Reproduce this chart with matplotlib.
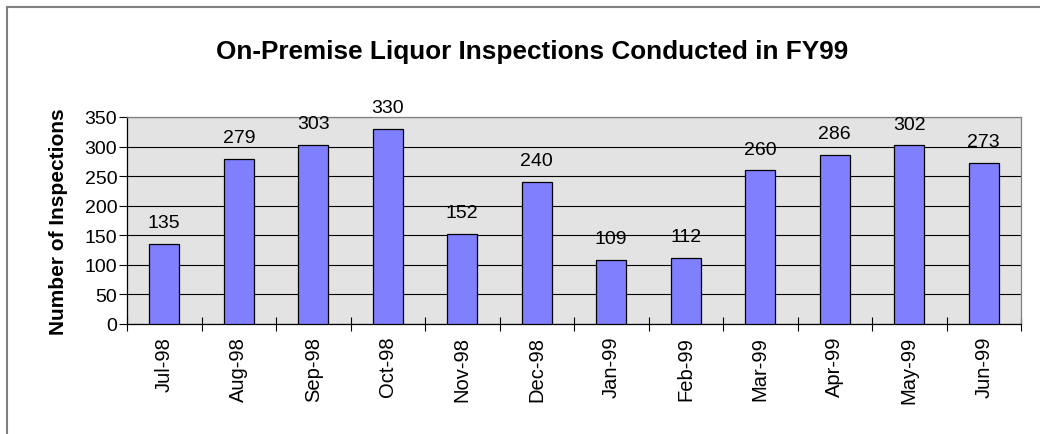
import matplotlib
matplotlib.use("Agg")
import matplotlib.pyplot as plt
import numpy as np

months = ["Jul-98", "Aug-98", "Sep-98", "Oct-98", "Nov-98", "Dec-98",
          "Jan-99", "Feb-99", "Mar-99", "Apr-99", "May-99", "Jun-99"]
inspections = [135, 279, 303, 330, 152, 240, 109, 112, 260, 286, 302, 273]
y_ticks = [0, 50, 100, 150, 200, 250, 300, 350]

plt.rcParams["font.family"] = ["Liberation Sans", "DejaVu Sans"]

fig = plt.figure(figsize=(10.4, 4.35), dpi=100)
ax = fig.add_axes([127 / 1040, 1 - 325 / 435, (1021 - 127) / 1040, (325 - 118) / 435])

x = np.arange(len(months))
ax.set_facecolor("#E3E3E3")
ax.bar(x, inspections, width=0.4, color="#8080FF", edgecolor="black",
       linewidth=0.9, zorder=3)

for xi, v in zip(x, inspections):
    ax.annotate(str(v), (xi, v), xytext=(0, 12), textcoords="offset points",
                ha="center", va="baseline", fontsize=14, zorder=4)

ax.set_xlim(-0.5, len(months) - 0.5)
ax.set_ylim(0, 350)
ax.set_yticks(y_ticks)
ax.tick_params(axis="y", direction="out", length=5.5, width=0.8, pad=1.5,
               labelsize=14)
ax.grid(axis="y", color="black", linewidth=0.8, zorder=1)

ax.set_xticks(x)
ax.set_xticklabels(months, rotation=90, fontsize=14.5)
ax.tick_params(axis="x", which="major", length=0, pad=8.5)
ax.set_xticks(np.arange(-0.5, len(months)), minor=True)
ax.tick_params(axis="x", which="minor", direction="inout", length=10, width=0.8)

ax.set_ylabel("Number of Inspections", fontsize=15, fontweight="bold", labelpad=12)

for side in ["left", "bottom"]:
    ax.spines[side].set_color("black")
    ax.spines[side].set_linewidth(0.9)
for side in ["top", "right"]:
    ax.spines[side].set_color("#808080")
    ax.spines[side].set_linewidth(0.9)

fig.text(532 / 1040, 1 - 52 / 435, "On-Premise Liquor Inspections Conducted in FY99",
         ha="center", va="center", fontsize=18.8, fontweight="bold")

# outer chart border (only top and left visible in the reference crop)
fig.add_artist(plt.Line2D([7 / 1040, 1.0], [1 - 8 / 435, 1 - 8 / 435],
                          color="#808080", linewidth=1.5, transform=fig.transFigure))
fig.add_artist(plt.Line2D([7 / 1040, 7 / 1040], [0.0, 1 - 8 / 435],
                          color="#808080", linewidth=1.5, transform=fig.transFigure))

fig.savefig("out.png", dpi=100)
